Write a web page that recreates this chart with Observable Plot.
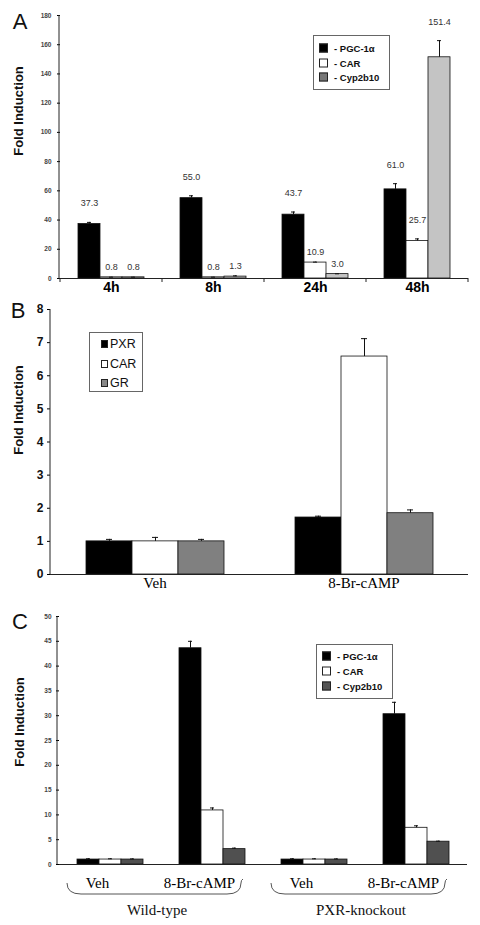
<!DOCTYPE html>
<html><head><meta charset="utf-8">
<script src="https://cdn.jsdelivr.net/npm/d3@7"></script>
<script src="https://cdn.jsdelivr.net/npm/@observablehq/plot@0.6"></script>
<style>
body{margin:0;background:#fff;}
#wrap{position:relative;width:480px;height:925px;overflow:hidden;font-family:Arial,"Liberation Sans",sans-serif;background:#fff;}
.panel{position:absolute;left:0;}
.letter{position:absolute;font-size:22px;transform:translate(-50%,-50%);color:#111;}
.ytitle{position:absolute;font-weight:bold;font-size:13px;white-space:nowrap;transform:translate(-50%,-50%) rotate(-90deg);color:#111;}
.legend{position:absolute;border:1px solid #666;background:#fff;box-sizing:border-box;}
.legend .row{position:absolute;left:0;display:flex;align-items:center;white-space:nowrap;transform:translateY(-50%);}
.legend .sw{box-sizing:border-box;border:1px solid #222;display:inline-block;}
</style>
</head><body>
<div id="wrap"></div>
<script>
// ---------- Panel A data ----------
const timepoints = ["4h", "8h", "24h", "48h"];
const genesA = ["PGC-1α", "CAR", "Cyp2b10"];
const pgcA = [37.3, 55.0, 43.7, 61.0];
const pgcAErr = [1.1, 1.6, 1.8, 3.9];
const carA = [0.8, 0.8, 10.9, 25.7];
const carAErr = [0.1, 0.1, 0.3, 1.4];
const cypA = [0.8, 1.3, 3.0, 151.4];
const cypAErr = [0.1, 0.5, 0.2, 11.4];
const ticksA = [0, 20, 40, 60, 80, 100, 120, 140, 160, 180];

// ---------- Panel B data ----------
const treatmentsB = ["Veh", "8-Br-cAMP"];
const receptorsB = ["PXR", "CAR", "GR"];
const pxrB = [1.0, 1.72];
const pxrBErr = [0.06, 0.04];
const carB = [1.0, 6.58];
const carBErr = [0.12, 0.54];
const grB = [1.0, 1.85];
const grBErr = [0.06, 0.10];
const ticksB = [0, 1, 2, 3, 4, 5, 6, 7, 8];

// ---------- Panel C data ----------
const treatmentsC = ["Veh", "8-Br-cAMP", "Veh", "8-Br-cAMP"];
const genotypesC = ["Wild-type", "PXR-knockout"];
const genesC = ["PGC-1α", "CAR", "Cyp2b10"];
const pgcC = [1.0, 43.6, 1.0, 30.3];
const pgcCErr = [0.15, 1.4, 0.15, 2.4];
const carC = [1.0, 10.9, 1.0, 7.4];
const carCErr = [0.15, 0.5, 0.15, 0.4];
const cypC = [1.0, 3.1, 1.0, 4.6];
const cypCErr = [0.12, 0.2, 0.12, 0.1];
const ticksC = [0, 5, 10, 15, 20, 25, 30, 35, 40, 45, 50];

// ---------- helpers ----------
function table(groups, series, vals, errs) {
  const rows = [];
  series.forEach((s, k) => groups.forEach((g, i) => rows.push({group: g, gene: s, value: vals[k][i], err: errs[k][i]})));
  return rows;
}
function svgOf(c) { return c.tagName.toLowerCase() === "svg" ? c : c.querySelector("svg"); }
const wrap = document.getElementById("wrap");
function place(chart, top) {
  chart.classList.add("panel");
  chart.style.top = top + "px";
  wrap.appendChild(chart);
}
function addYLine(chart, left) {
  const [y0, y1] = chart.scale("y").range;
  d3.select(svgOf(chart)).append("line")
    .attr("x1", left).attr("x2", left).attr("y1", y0).attr("y2", y1)
    .attr("stroke", "#222").attr("stroke-width", 1);
}
function div(cls, text, left, top, extra) {
  const d = document.createElement("div");
  d.className = cls; d.textContent = text;
  d.style.left = left + "px"; d.style.top = top + "px";
  Object.assign(d.style, extra || {});
  wrap.appendChild(d);
  return d;
}
function legend(left, top, w, h, labels, colors, opt) {
  const box = div("legend", "", left, top, {width: w + "px", height: h + "px"});
  labels.forEach((lab, i) => {
    const r = document.createElement("div");
    r.className = "row";
    r.style.top = (opt.first + i * opt.step) + "px";
    r.style.left = opt.swLeft + "px";
    const sw = document.createElement("span");
    sw.className = "sw";
    sw.style.width = opt.swW + "px"; sw.style.height = opt.swH + "px";
    sw.style.background = colors[i];
    const t = document.createElement("span");
    t.textContent = opt.prefix + lab;
    t.style.marginLeft = opt.gap + "px";
    t.style.fontSize = opt.fontSize + "px";
    t.style.fontWeight = opt.weight;
    t.style.fontFamily = opt.family;
    t.style.color = "#111";
    r.appendChild(sw); r.appendChild(t);
    box.appendChild(r);
  });
}

// ---------- Panel A ----------
const dataA = table(timepoints, genesA, [pgcA, carA, cypA], [pgcAErr, carAErr, cypAErr]);
const chartA = Plot.plot({
  width: 480, height: 300,
  marginTop: 15, marginBottom: 22, marginLeft: 59, marginRight: 12,
  style: {fontFamily: "Arial, 'Liberation Sans', sans-serif", background: "transparent"},
  fx: {domain: timepoints, padding: 0, label: null},
  x: {domain: genesA, paddingInner: 0, paddingOuter: 0.72, axis: null},
  y: {domain: [0, 180], label: null},
  color: {domain: genesA, range: ["#000000", "#ffffff", "#c4c4c4"]},
  marks: [
    Plot.barY(dataA, {fx: "group", x: "gene", y: "value", fill: "gene", stroke: "#111", strokeWidth: 0.8}),
    Plot.ruleX(dataA, {fx: "group", x: "gene", y1: "value", y2: d => d.value + d.err, stroke: "#111"}),
    Plot.tickY(dataA, {fx: "group", x: "gene", y: d => d.value + d.err, insetLeft: 9, insetRight: 9, stroke: "#111"}),
    Plot.text(dataA.filter(d => d.value > 20), {fx: "group", x: "gene", y: d => d.value + d.err, text: d => d.value.toFixed(1), dy: -19, fontSize: 9, fill: "#333"}),
    Plot.text(dataA.filter(d => d.value <= 20), {fx: "group", x: "gene", y: d => d.value + d.err, text: d => d.value.toFixed(1), dy: -10, fontSize: 9, fill: "#333"}),
    Plot.ruleY([0], {stroke: "#222"}),
    Plot.axisY({ticks: ticksA, tickSize: 3, tickPadding: 6, fontSize: 6.5, fontWeight: "bold", fill: "#444", label: null}),
    Plot.axisFx({anchor: "bottom", tickSize: 0, tickPadding: 4, fontSize: 14, fontWeight: "bold", label: null})
  ]
});
place(chartA, 0);
addYLine(chartA, 59);
{
  const fx = chartA.scale("fx");
  const s = d3.select(svgOf(chartA));
  const yb = chartA.scale("y").range[0];
  const edges = timepoints.map(t => fx.apply(t)).concat([fx.apply(timepoints[timepoints.length - 1]) + fx.bandwidth]);
  edges.forEach(x => s.append("line").attr("x1", x).attr("x2", x).attr("y1", yb).attr("y2", yb + 4).attr("stroke", "#222"));
}
div("letter", "A", 20, 22);
div("ytitle", "Fold Induction", 18, 111);
legend(313, 35, 77, 55, genesA, ["#000", "#fff", "#777"],
  {first: 12, step: 14.5, swLeft: 5, swW: 9, swH: 9, gap: 6, prefix: "- ", fontSize: 9.5, weight: "bold", family: "Arial, 'Liberation Sans', sans-serif"});

// ---------- Panel B ----------
const dataB = table(treatmentsB, receptorsB, [pxrB, carB, grB], [pxrBErr, carBErr, grBErr]);
const chartB = Plot.plot({
  width: 480, height: 300,
  marginTop: 9, marginBottom: 26, marginLeft: 50, marginRight: 12,
  style: {fontFamily: "Arial, 'Liberation Sans', sans-serif", background: "transparent"},
  fx: {domain: treatmentsB, padding: 0, label: null},
  x: {domain: receptorsB, paddingInner: 0, paddingOuter: 0.77, axis: null},
  y: {domain: [0, 8], label: null},
  color: {domain: receptorsB, range: ["#000000", "#ffffff", "#808080"]},
  marks: [
    Plot.barY(dataB, {fx: "group", x: "gene", y: "value", fill: "gene", stroke: "#111", strokeWidth: 0.8}),
    Plot.ruleX(dataB, {fx: "group", x: "gene", y1: "value", y2: d => d.value + d.err, stroke: "#111"}),
    Plot.tickY(dataB, {fx: "group", x: "gene", y: d => d.value + d.err, insetLeft: 20, insetRight: 20, stroke: "#111"}),
    Plot.ruleY([0], {stroke: "#222"}),
    Plot.axisY({ticks: ticksB, tickSize: 3, tickPadding: 4, fontSize: 12, fontWeight: "bold", fontFamily: "'Liberation Sans Narrow', 'Arial Narrow', Arial, sans-serif", fill: "#111", label: null}),
    Plot.axisFx({anchor: "bottom", tickSize: 0, tickPadding: 3, fontSize: 15, fontFamily: "'Liberation Serif', 'Times New Roman', serif", label: null})
  ]
});
place(chartB, 300);
addYLine(chartB, 50);
div("letter", "B", 18, 311);
div("ytitle", "Fold Induction", 18, 410);
legend(89, 332, 54, 60, receptorsB, ["#000", "#fff", "#888"],
  {first: 11, step: 19.5, swLeft: 11, swW: 7, swH: 8, gap: 2, prefix: "", fontSize: 12.5, weight: "normal", family: "'Liberation Sans Narrow', 'Arial Narrow', Arial, sans-serif"});

// ---------- Panel C ----------
const groupsC = treatmentsC.map((t, i) => i);
const dataC = table(groupsC, genesC, [pgcC, carC, cypC], [pgcCErr, carCErr, cypCErr]);
const chartC = Plot.plot({
  width: 480, height: 325,
  marginTop: 16, marginBottom: 61, marginLeft: 57, marginRight: 12,
  style: {fontFamily: "Arial, 'Liberation Sans', sans-serif", background: "transparent"},
  fx: {domain: groupsC, padding: 0, label: null},
  x: {domain: genesC, paddingInner: 0, paddingOuter: 0.78, axis: null},
  y: {domain: [0, 50], label: null},
  color: {domain: genesC, range: ["#000000", "#ffffff", "#505050"]},
  marks: [
    Plot.barY(dataC, {fx: "group", x: "gene", y: "value", fill: "gene", stroke: "#111", strokeWidth: 0.8}),
    Plot.ruleX(dataC, {fx: "group", x: "gene", y1: "value", y2: d => d.value + d.err, stroke: "#111"}),
    Plot.tickY(dataC, {fx: "group", x: "gene", y: d => d.value + d.err, insetLeft: 9, insetRight: 9, stroke: "#111"}),
    Plot.ruleY([0], {stroke: "#222"}),
    Plot.axisY({ticks: ticksC, tickSize: 3, tickPadding: 5, fontSize: 6.5, fontWeight: "bold", fill: "#444", label: null}),
    Plot.axisFx({anchor: "bottom", tickSize: 0, tickPadding: 13, dx: -13, fontSize: 15, fontFamily: "'Liberation Serif', 'Times New Roman', serif", tickFormat: i => treatmentsC[i], label: null})
  ]
});
place(chartC, 600);
addYLine(chartC, 57);
{
  const fx = chartC.scale("fx");
  const s = d3.select(svgOf(chartC));
  const yb = chartC.scale("y").range[0];
  genotypesC.forEach((g, k) => {
    const a = fx.apply(groupsC[2 * k]);
    const b = fx.apply(groupsC[2 * k + 1]) + fx.bandwidth;
    const c = (a + b) / 2 - 7;
    const x0 = c - 87, x1 = c + 87;
    const yt = yb + 19, ybot = yb + 30;
    s.append("path")
      .attr("d", `M${x0},${yt} Q${x0},${ybot} ${x0 + 14},${ybot} L${x1 - 14},${ybot} Q${x1},${ybot} ${x1},${yt} Q${x1},${yt - 3} ${x1 + 2},${yt - 4}`)
      .attr("fill", "none").attr("stroke", "#555").attr("stroke-width", 1);
    s.append("text").attr("x", c + 3).attr("y", yb + 51)
      .attr("text-anchor", "middle").attr("font-size", 15)
      .attr("font-family", "'Liberation Serif', 'Times New Roman', serif")
      .attr("fill", "#111").text(g);
  });
}
div("letter", "C", 20, 622);
div("ytitle", "Fold Induction", 19, 722);
legend(316, 644, 77, 55, genesC, ["#000", "#fff", "#555"],
  {first: 11, step: 15, swLeft: 5, swW: 9, swH: 9, gap: 6, prefix: "- ", fontSize: 9.5, weight: "bold", family: "Arial, 'Liberation Sans', sans-serif"});
</script>
</body></html>
